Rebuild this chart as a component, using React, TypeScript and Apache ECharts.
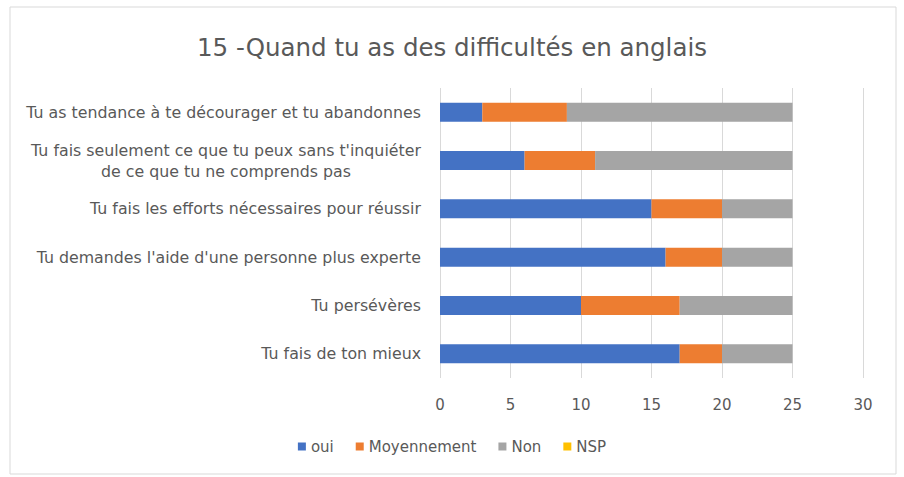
import React, { useEffect, useRef } from "react";
import * as echarts from "echarts";

const categories = [
  "Tu as tendance à te décourager et tu abandonnes",
  "Tu fais seulement ce que tu peux sans t'inquiéter\nde ce que tu ne comprends pas",
  "Tu fais les efforts nécessaires pour réussir",
  "Tu demandes l'aide d'une personne plus experte",
  "Tu persévères",
  "Tu fais de ton mieux",
];
const oui = [3, 6, 15, 16, 10, 17];
const moyennement = [6, 5, 5, 4, 7, 3];
const non = [16, 14, 5, 5, 8, 5];
const nsp = [0, 0, 0, 0, 0, 0];
const xTicks = { min: 0, max: 30, interval: 5 };

const FONT = "DejaVu Sans";
const GRAY = "#595959";

export default function App() {
  const ref = useRef<HTMLDivElement>(null);
  useEffect(() => {
    document.body.style.margin = "0";
    const chart = echarts.init(ref.current!, null, { renderer: "svg" });
    const mk = (name: string, data: number[], color: string) => ({
      name,
      type: "bar",
      stack: "s",
      data,
      barWidth: 19,
      itemStyle: { color },
      emphasis: { disabled: true },
    });
    chart.setOption({
      animation: false,
      backgroundColor: "#fff",
      textStyle: { fontFamily: FONT },
      title: {
        text: "15 -Quand tu as des difficultés en anglais",
        left: "center",
        top: 30,
        textStyle: { fontFamily: FONT, fontSize: 24.5, fontWeight: "normal", color: GRAY },
      },
      legend: {
        bottom: 18,
        left: "center",
        itemWidth: 8,
        itemHeight: 8,
        itemGap: 22,
        icon: "rect",
        textStyle: { fontFamily: FONT, fontSize: 15, color: GRAY },
        data: ["oui", "Moyennement", "Non", "NSP"],
      },
      graphic: [
        {
          type: "rect",
          shape: { x: 10, y: 7, width: 886, height: 467 },
          style: { fill: "none", stroke: "#d9d9d9", lineWidth: 1 },
          silent: true,
        },
      ],
      grid: { left: 440, right: 41, top: 88, bottom: 99 },
      xAxis: {
        type: "value",
        min: xTicks.min,
        max: xTicks.max,
        interval: xTicks.interval,
        axisLine: { show: false },
        axisTick: { show: false },
        splitLine: { lineStyle: { color: "#d9d9d9" } },
        axisLabel: { color: GRAY, fontSize: 15, fontFamily: FONT, margin: 19 },
      },
      yAxis: {
        type: "category",
        inverse: true,
        data: categories,
        axisLine: { show: false },
        axisTick: { show: false },
        axisLabel: {
          color: GRAY,
          fontSize: 15.8,
          fontFamily: FONT,
          margin: 19,
          lineHeight: 21,
          formatter: (v: string) => (v.includes("\n") ? "{c|" + v + "}" : v),
          rich: {
            c: { width: 390, align: "center", color: GRAY, fontSize: 15.8, fontFamily: FONT, lineHeight: 21 },
          },
        },
      },
      series: [
        mk("oui", oui, "#4472C4"),
        mk("Moyennement", moyennement, "#ED7D31"),
        mk("Non", non, "#A5A5A5"),
        mk("NSP", nsp, "#FFC000"),
      ],
    });
    return () => chart.dispose();
  }, []);
  return <div ref={ref} style={{ width: 904, height: 477 }} />;
}
